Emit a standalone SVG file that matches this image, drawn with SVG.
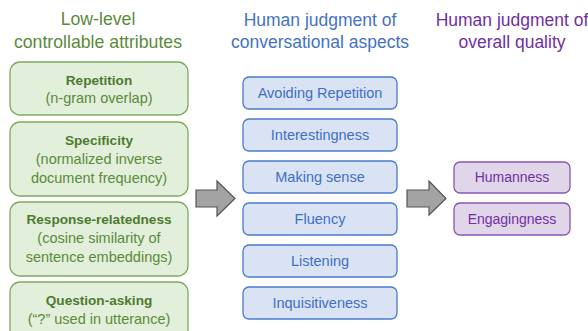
<svg xmlns="http://www.w3.org/2000/svg" width="588" height="331" viewBox="0 0 588 331">
<style>
text{font-family:"Liberation Sans",Arial,sans-serif;text-anchor:middle}
.tg{fill:#5B8A3A;font-size:17.7px}
.tb{fill:#4472C4;font-size:17.5px}
.tp{fill:#7030A0;font-size:17.5px}
.g rect{fill:#E2EFDA;stroke:#7FAA5E;stroke-width:1.3}
.g .h{fill:#4E7A30;font-size:13.6px;font-weight:bold}
.g .s{fill:#5B8A3A;font-size:14.5px}
.b rect{fill:#DAE3F3;stroke:#4A7BCF;stroke-width:1.3}
.b text{fill:#3F6FC4;font-size:14.5px}
.p rect{fill:#E1D5E9;stroke:#8A55B5;stroke-width:1.3}
.p text{fill:#7030A0;font-size:14px}
.arr{fill:#A3A3A3;stroke:#555;stroke-width:1.2}
</style>
<text class="tg" x="98" y="25">Low-level</text>
<text class="tg" x="98" y="48">controllable attributes</text>
<text class="tb" x="320" y="26">Human judgment of</text>
<text class="tb" x="320" y="48">conversational aspects</text>
<text class="tp" x="512" y="26">Human judgment of</text>
<text class="tp" x="512" y="48">overall quality</text>

<g id="repetition" class="g"><rect x="10" y="62" width="178" height="53" rx="10"/><text class="h" x="99" y="85">Repetition</text><text class="s" x="99" y="103">(n-gram overlap)</text></g>
<g id="specificity" class="g"><rect x="10" y="122" width="178" height="74" rx="10"/><text class="h" x="99" y="145">Specificity</text><text class="s" x="99" y="164">(normalized inverse</text><text class="s" x="99" y="183">document frequency)</text></g>
<g id="relatedness" class="g"><rect x="10" y="202" width="178" height="74" rx="10"/><text class="h" x="99" y="224">Response-relatedness</text><text class="s" x="99" y="243">(cosine similarity of</text><text class="s" x="99" y="262">sentence embeddings)</text></g>
<g id="question" class="g"><rect x="10" y="282" width="178" height="60" rx="10"/><text class="h" x="99" y="305">Question-asking</text><text class="s" x="99" y="324">(“?” used in utterance)</text></g>

<g id="avoiding" class="b"><rect x="243" y="77" width="154" height="32" rx="6"/><text x="320" y="98">Avoiding Repetition</text></g>
<g id="interestingness" class="b"><rect x="243" y="119" width="154" height="32" rx="6"/><text x="320" y="140">Interestingness</text></g>
<g id="making-sense" class="b"><rect x="243" y="161" width="154" height="32" rx="6"/><text x="320" y="182">Making sense</text></g>
<g id="fluency" class="b"><rect x="243" y="203" width="154" height="32" rx="6"/><text x="320" y="224">Fluency</text></g>
<g id="listening" class="b"><rect x="243" y="245" width="154" height="32" rx="6"/><text x="320" y="266">Listening</text></g>
<g id="inquisitiveness" class="b"><rect x="243" y="287" width="154" height="32" rx="6"/><text x="320" y="308">Inquisitiveness</text></g>

<g id="humanness" class="p"><rect x="454" y="162" width="116" height="31" rx="6"/><text x="512" y="182">Humanness</text></g>
<g id="engagingness" class="p"><rect x="454" y="203" width="116" height="32" rx="6"/><text x="512" y="224">Engagingness</text></g>

<g id="connectors">
<path class="arr" d="M196,190 H217 V181 L235,198.5 L217,216 V207 H196 Z"/>
<path class="arr" d="M407,190 H429 V181 L446,198.5 L429,215 V207 H407 Z"/>
</g>
</svg>
